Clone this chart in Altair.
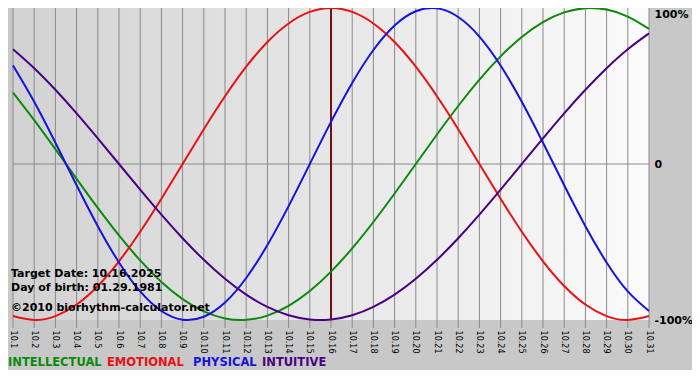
import altair as alt
import pandas as pd

# ---------------- data ----------------
month = "10"
days = list(range(1, 32))

intellectual = [0.4582, 0.2817, 0.0951, -0.0951, -0.2817, -0.4582, -0.6182, -0.7557,
                -0.8660, -0.9450, -0.9898, -0.9989, -0.9718, -0.9096, -0.8146, -0.6901,
                -0.5406, -0.3717, -0.1893, 0.0, 0.1893, 0.3717, 0.5406, 0.6901,
                0.8146, 0.9096, 0.9718, 0.9989, 0.9898, 0.9450, 0.8660]
emotional = [-0.9749, -1.0, -0.9749, -0.9010, -0.7818, -0.6235, -0.4339, -0.2225,
             0.0, 0.2225, 0.4339, 0.6235, 0.7818, 0.9010, 0.9749, 1.0,
             0.9749, 0.9010, 0.7818, 0.6235, 0.4339, 0.2225, 0.0, -0.2225,
             -0.4339, -0.6235, -0.7818, -0.9010, -0.9749, -1.0, -0.9749]
physical = [0.6311, 0.3984, 0.1362, -0.1362, -0.3984, -0.6311, -0.8170, -0.9423,
            -0.9977, -0.9791, -0.8879, -0.7308, -0.5196, -0.2698, 0.0, 0.2698,
            0.5196, 0.7308, 0.8879, 0.9791, 0.9977, 0.9423, 0.8170, 0.6311,
            0.3984, 0.1362, -0.1362, -0.3984, -0.6311, -0.8170, -0.9423]
intuitive = [0.7357, 0.6142, 0.4759, 0.3247, 0.1646, 0.0, -0.1646, -0.3247,
             -0.4759, -0.6142, -0.7357, -0.8372, -0.9158, -0.9694, -0.9966, -0.9966,
             -0.9694, -0.9158, -0.8372, -0.7357, -0.6142, -0.4759, -0.3247, -0.1646,
             0.0, 0.1646, 0.3247, 0.4759, 0.6142, 0.7357, 0.8372]

series_names = ["INTELLECTUAL", "EMOTIONAL", "PHYSICAL", "INTUITIVE"]
series_colors = ["#0b8a0b", "#e81212", "#1414dc", "#4b0082"]

target_day = 16
info_lines = ["Target Date: 10.16.2025", "Day of birth: 01.29.1981",
              "\u00a92010 biorhythm-calculator.net"]

y_ticks = [-1, 0, 1]
y_tick_labels = ["-100%", "0", "100%"]

# ---------------- layout ----------------
W, H = 636, 312
LEFT = 5
FONT = "DejaVu Sans"
GRID = "#8a8a8a"

rows = []
for name, vals in zip(series_names, [intellectual, emotional, physical, intuitive]):
    for d, v in zip(days, vals):
        rows.append({"day": d, "value": v, "series": name})
df = pd.DataFrame(rows)

xscale = alt.Scale(domain=[days[0], days[-1]], nice=False, zero=False)
yscale = alt.Scale(domain=[-1, 1], nice=False, zero=False)

xaxis = alt.Axis(values=days, labelExpr=f"'{month}.' + datum.value", labelAngle=90,
                 labelAlign="left", labelBaseline="middle", labelPadding=10,
                 ticks=False, domain=False, grid=False,
                 labelFont="DejaVu Sans Condensed, DejaVu Sans",
                 labelFontSize=9, labelColor="black", labelOverlap=False,
                 labelFlush=False, title=None)
ylabel_expr = " : ".join(
    f"datum.value == {v} ? '{t}'" for v, t in zip(y_ticks[:-1], y_tick_labels[:-1])
) + f" : '{y_tick_labels[-1]}'"
yaxis = alt.Axis(orient="right", values=y_ticks, labelExpr=ylabel_expr, ticks=False,
                 domain=False, grid=False, labelFont=FONT, labelFontSize=11,
                 labelFontWeight="bold", labelColor="black", labelPadding=5,
                 labelAlign="left",
                 labelBaseline={"condition": {"test": "datum.value == 1", "value": "top"},
                                "value": "middle"},
                 labelFlush=False, labelOverlap=False, title=None)

xenc = alt.X("day:Q", scale=xscale, axis=xaxis)
yenc = alt.Y("value:Q", scale=yscale, axis=yaxis)

gradient = alt.LinearGradient(
    gradient="linear",
    stops=[alt.GradientStop(color="#d2d2d2", offset=0),
           alt.GradientStop(color="#fbfbfb", offset=1)],
    x1=0, x2=1, y1=0, y2=0)

bg = alt.Chart(pd.DataFrame({"a": [0]})).mark_rect(color=gradient).encode(
    x=alt.value(0), x2=alt.value(W), y=alt.value(0), y2=alt.value(H))

grid = alt.Chart(pd.DataFrame({"day": days})).mark_rule(color=GRID, strokeWidth=1).encode(
    x=xenc, y=alt.value(0), y2=alt.value(H + 8))

zero = alt.Chart(pd.DataFrame({"value": [0]})).mark_rule(color=GRID, strokeWidth=1).encode(
    y=yenc, x=alt.value(0), x2=alt.value(W))

target = alt.Chart(pd.DataFrame({"day": [target_day]})).mark_rule(
    color="#6e1414", strokeWidth=2).encode(x=xenc, y=alt.value(0), y2=alt.value(H))

lines = alt.Chart(df).mark_line(strokeWidth=2, interpolate="natural").encode(
    x=xenc, y=yenc,
    color=alt.Color("series:N", scale=alt.Scale(domain=series_names, range=series_colors),
                    legend=None),
    order=alt.value(0))

layers = [bg, grid, zero, target, lines]

info_y = [269, 283, 303]
for txt, yy in zip(info_lines, info_y):
    layers.append(
        alt.Chart(pd.DataFrame({"t": [txt]})).mark_text(
            align="left", baseline="alphabetic", font=FONT, fontSize=11,
            fontWeight="bold", color="black").encode(
            text="t:N", x=alt.value(-2), y=alt.value(yy)))

legend_x = [-5, 94, 180, 249]
for name, col, xx in zip(series_names, series_colors, legend_x):
    layers.append(
        alt.Chart(pd.DataFrame({"t": [name]})).mark_text(
            align="left", baseline="alphabetic", font=FONT, fontSize=11.5,
            fontWeight="bold", color=col).encode(
            text="t:N", x=alt.value(xx), y=alt.value(H + 46)))

chart = alt.layer(*layers).properties(
    width=W, height=H,
    padding={"left": LEFT, "top": 0, "right": 43, "bottom": 50},
    autosize=alt.AutoSizeParams(type="none"),
    background="#c8c8c8",
).configure_view(stroke=None)

chart.save("out.html", embed_options={"renderer": "svg", "actions": False})
